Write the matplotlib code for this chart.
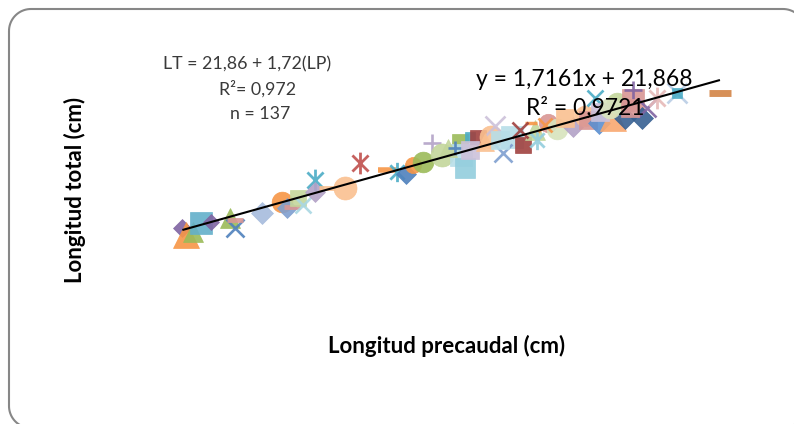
import matplotlib
matplotlib.use("Agg")
import matplotlib.pyplot as plt
from matplotlib.path import Path
from matplotlib.patches import PathPatch
from matplotlib.transforms import IdentityTransform
import numpy as np

# Longitud precaudal (cm) per fish
lp = [17.7, 18.0, 18.6, 19.2, 20.1, 21.6, 22.0, 22.0, 24.3, 25.9,
      26.3, 26.7, 27.2, 27.6, 28.6, 28.6, 29.6, 31.1, 32.3, 34.6,
      35.4, 36.1, 36.7, 37.5, 38.3, 39.1, 40.6, 41.4, 40.7, 41.0,
      42.1, 43.1, 43.5, 42.0, 44.9, 44.1, 45.8, 46.8, 46.9, 46.4,
      47.8, 48.6, 49.9, 50.9, 51.1, 52.0, 51.7, 53.2, 53.5, 54.2,
      54.8, 54.8, 55.6, 56.0, 56.8, 58.5, 58.5, 62.0,
      39.6, 40.2, 41.4, 42.6, 43.9, 45.5, 47.6, 49.2, 52.1, 52.9, 54.6]
# Longitud total (cm) per fish
lt = [53.3, 49.7, 51.2, 55.8, 56.3, 58.3, 53.3, 57.3, 60.9, 66.4,
      63.4, 63.9, 68.5, 64.9, 77.6, 71.5, 73.5, 73.5, 86.2, 82.7,
      81.6, 80.6, 85.2, 86.7, 96.3, 90.3, 96.9, 99.4, 90.3, 83.7,
      98.9, 99.4, 105.0, 94.3, 99.4, 91.3, 95.3, 102.9, 97.9, 106.5,
      106.5, 103.4, 104.5, 110.0, 108.0, 106.5, 119.2, 108.9, 116.6, 108.9,
      118.1, 123.2, 108.9, 114.1, 119.2, 121.7, 121.7, 121.7,
      93.8, 93.8, 92.8, 96.9, 97.9, 103.0, 105.5, 109.0, 112.1, 114.1, 114.1]

# Trendline coefficients and figure texts
slope, intercept = 1.7161, 21.868
eq_text = "y = 1,7161x + 21,868"
r2_text = "R² = 0,9721"
model_lines = ["LT = 21,86 + 1,72(LP)", "R²= 0,972", "n = 137"]
x_title = "Longitud precaudal (cm)"
y_title = "Longitud total (cm)"

# Marker style per fish: (marker, colour, size in px)
styles = [
    ("D", "#8064A2", 14), ("^", "#F79646", 22), ("^", "#9BBB59", 18), ("s", "#63B0CA", 20),
    ("D", "#8064A2", 12), ("^", "#9BBB59", 18), ("x", "#4F81BD", 16), ("_", "#D99694", 14),
    ("D", "#A7BCDD", 18), ("o", "#F79646", 18), ("D", "#7F9FD0", 16), ("_", "#D99694", 14),
    ("s", "#C3D69B", 14), ("x", "#A9D7E3", 14), ("*", "#4BACC6", 18), ("D", "#B3A2C7", 16),
    ("_", "#FAC090", 14), ("o", "#FAC090", 20), ("*", "#C0504D", 18), ("_", "#F79646", 16),
    ("*", "#4BACC6", 16), ("D", "#4F81BD", 16), ("o", "#F79646", 14), ("o", "#9BBB59", 18),
    ("+", "#B3A2C7", 16), ("o", "#C3D69B", 20), ("s", "#9BBB59", 14), ("s", "#4BACC6", 8),
    ("s", "#B7DEE8", 20), ("s", "#93CDDD", 18), ("s", "#A0413F", 14), ("o", "#FAC090", 20),
    ("x", "#CCC1DA", 18), ("_", "#FAC090", 14), ("s", "#B7DEE8", 20), ("x", "#7F9FD0", 16),
    ("s", "#A0413F", 14), ("^", "#C3D69B", 18), ("*", "#93CDDD", 16), ("_", "#F79646", 10),
    ("o", "#D99694", 16), ("o", "#D7E4BD", 18), ("D", "#B3A2C7", 16), ("o", "#FAC090", 18),
    ("s", "#D99694", 16), ("D", "#5B8FD0", 18), ("x", "#4BACC6", 14), ("^", "#F9A870", 22),
    ("o", "#C3D69B", 18), ("D", "#376092", 18), ("s", "#D99694", 20), ("+", "#8064A2", 16),
    ("D", "#376092", 18), ("x", "#8064A2", 16), ("*", "#E6B9B8", 18), ("x", "#B9CDE5", 18),
    ("s", "#4BACC6", 8), ("_", "#D38446", 20),
    ("^", "#C3D69B", 16), ("+", "#4F81BD", 12), ("s", "#CCC1DA", 16), ("^", "#FAC090", 16),
    ("s", "#B7DEE8", 16), ("x", "#A0413F", 14), ("x", "#F79646", 12), ("s", "#FAC090", 16),
    ("s", "#CCC1DA", 16), ("o", "#D7E4BD", 18), ("s", "#D99694", 16),
]

SCALE = 1.15

W, H = 794, 424
fig = plt.figure(figsize=(W / 100, H / 100), dpi=100)
fig.patch.set_facecolor("white")

# Plot area (no visible axes)
left, right, top, bottom = 100, 760, 30, 330
ax = fig.add_axes([left / W, 1 - bottom / H, (right - left) / W, (bottom - top) / H])
ax.set_xlim(10.913, 65.30)
ax.set_ylim(1.57, 153.62)
ax.axis("off")

asterisk = Path([(-1, -1), (1, 1), (-1, 1), (1, -1), (0, -1.35), (0, 1.35)],
                [Path.MOVETO, Path.LINETO, Path.MOVETO, Path.LINETO, Path.MOVETO, Path.LINETO])

for x, y, (m, c, s) in zip(lp, lt, styles):
    ms = s * 0.72 * SCALE
    if m in ("x", "+"):
        ax.plot([x], [y], marker=m, ms=ms, mec=c, mew=1.9, ls="none", alpha=0.9)
    elif m == "*":
        ax.plot([x], [y], marker=asterisk, ms=ms * 1.05, mec=c, mfc="none", mew=2.0,
                ls="none", alpha=0.9)
    elif m == "_":
        ax.plot([x], [y], marker="_", ms=ms, mec=c, mew=ms * 0.3, ls="none", alpha=0.9)
    else:
        size = ms * (0.78 if m == "D" else 1.0)
        ax.plot([x], [y], marker=m, ms=size, mfc=c, mec=c, mew=0.5, ls="none", alpha=0.9)

# Linear trendline over the measured range
x0, x1 = min(lp), max(lp)
ax.plot([x0, x1], [slope * x0 + intercept, slope * x1 + intercept], color="black", lw=1.5,
        solid_capstyle="butt")

def px(xp, yp):
    return xp / W, 1 - yp / H

font = "Lato"
fig.text(*px(584, 80), eq_text, fontsize=16.5, family=font, ha="center", va="center", color="black")
fig.text(*px(585, 108), r2_text, fontsize=16.5, family=font, ha="center", va="center", color="black")
for (yy, xx), t in zip([(64, 247), (89, 258), (114, 260)], model_lines):
    fig.text(*px(xx, yy), t, fontsize=12.8, family=font, ha="center", va="center", color="#3a3a3a")

fig.text(*px(447, 346), x_title, fontsize=16, family=font, weight="bold", ha="center",
         va="center")
fig.text(*px(75, 190), y_title, fontsize=16, family=font, weight="bold", ha="center",
         va="center", rotation=90)

# Rounded chart frame, built in image pixels (y measured from the top)
fx0, fx1, fy0, fy1, rad = 9, 805, 9, 428, 22
def arc(cx, cy, a0, a1):
    t = np.radians(np.linspace(a0, a1, 20))
    return list(zip(cx + rad * np.cos(t), cy - rad * np.sin(t)))
pts = []
pts += arc(fx0 + rad, fy0 + rad, 180, 90)
pts += arc(fx1 - rad, fy0 + rad, 90, 0)
pts += arc(fx1 - rad, fy1 - rad, 0, -90)
pts += arc(fx0 + rad, fy1 - rad, -90, -180)
pts.append(pts[0])
verts = [(xp, H - yp) for xp, yp in pts]
frame = PathPatch(Path(verts), transform=IdentityTransform(), fill=False,
                  edgecolor="#878787", lw=1.5, clip_on=False)
fig.add_artist(frame)

fig.savefig("out.png", dpi=100)
